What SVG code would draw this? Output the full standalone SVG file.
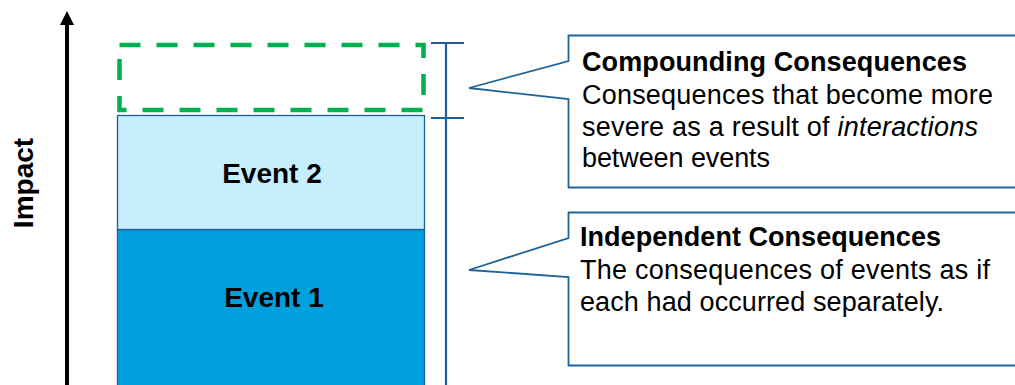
<svg xmlns="http://www.w3.org/2000/svg" width="1015" height="385" viewBox="0 0 1015 385">
<style>
text{font-family:"Liberation Sans",Arial,sans-serif;fill:#000}
.b{font-weight:bold}
.t{font-size:27px}
.ev{font-size:28px;font-weight:bold;text-anchor:middle}
.call{fill:#fff;stroke:#1F6399;stroke-width:1.8}
.br{stroke:#1F5E92;stroke-width:2.2;fill:none}
</style>
<rect width="1015" height="385" fill="#fff"/>
<g id="axis">
<line x1="67" y1="385" x2="67" y2="22" stroke="#000" stroke-width="4"/>
<polygon points="67,11 60,25 74,25" fill="#000"/>
<text class="b" font-size="28" transform="translate(33,183) rotate(-90)" text-anchor="middle">Impact</text>
</g>
<g id="event1">
<rect x="117.5" y="229.5" width="307" height="170" fill="#00A0DE" stroke="#1E5F91" stroke-width="1.3"/>
<text class="ev" x="274" y="307">Event 1</text>
</g>
<g id="event2">
<rect x="117.5" y="115.5" width="307" height="114" fill="#C6EEFD" stroke="#1E5F91" stroke-width="1.3"/>
<text class="ev" x="272" y="183">Event 2</text>
</g>
<g id="compound">
<rect x="119.5" y="45" width="304" height="65" fill="none" stroke="#00B050" stroke-width="4.5" stroke-dasharray="21 16"/>
</g>
<g id="connectors">
<line class="br" x1="446" y1="43" x2="446" y2="385"/>
<line class="br" x1="431" y1="43" x2="464" y2="43"/>
<line class="br" x1="431" y1="118" x2="464" y2="118"/>
</g>
<g id="callout-compounding">
<path class="call" d="M1020 35.5 H568.5 V61 L469 88 L568.5 99 V187.5 H1020"/>
<text class="t b" x="582" y="71" textLength="385" lengthAdjust="spacing">Compounding Consequences</text>
<text class="t" x="582" y="104" textLength="411" lengthAdjust="spacing">Consequences that become more</text>
<text class="t" x="582" y="136" textLength="396" lengthAdjust="spacing">severe as a result of <tspan font-style="italic">interactions</tspan></text>
<text class="t" x="582" y="167" textLength="188" lengthAdjust="spacing">between events</text>
</g>
<g id="callout-independent">
<path class="call" d="M1020 212.5 H568.5 V238 L469 270 L568.5 277 V365.5 H1020"/>
<text class="t b" x="580" y="246" textLength="361" lengthAdjust="spacing">Independent Consequences</text>
<text class="t" x="580" y="279" textLength="410" lengthAdjust="spacing">The consequences of events as if</text>
<text class="t" x="580" y="311" textLength="364" lengthAdjust="spacing">each had occurred separately.</text>
</g>
</svg>
